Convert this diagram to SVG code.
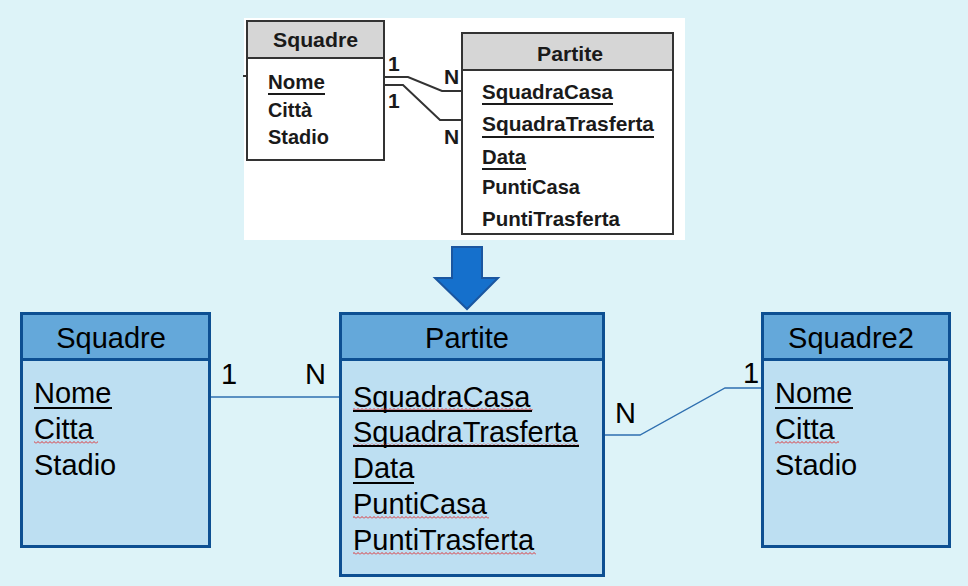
<svg xmlns="http://www.w3.org/2000/svg" width="968" height="586" viewBox="0 0 968 586">
<style>
.t{font-family:"Liberation Sans",Arial,sans-serif;font-size:29px;fill:#000}
.h{font-family:"Liberation Sans",Arial,sans-serif;font-size:29px;fill:#000;text-anchor:middle}
.b{font-family:"Liberation Sans",Arial,sans-serif;font-size:21px;font-weight:bold;fill:#1a1a1a}
.hdr{fill:#64A8DA;stroke:#0D4F92;stroke-width:3}
.body{fill:#BDDFF2;stroke:#0D4F92;stroke-width:3}
.ul{stroke:#000;stroke-width:2}
.ul2{stroke:#1a1a1a;stroke-width:2.2}
.conn{fill:none;stroke:#2E6FB0;stroke-width:1.3}
.oconn{fill:none;stroke:#333;stroke-width:2}
.obox{fill:#fff;stroke:#333;stroke-width:2}
.ohdr{fill:#D6D6D6;stroke:#333;stroke-width:2}
</style>
<defs>
<pattern id="wavy" width="4" height="3" patternUnits="userSpaceOnUse">
<path d="M0,2.5 L2,0.5 L4,2.5" fill="none" stroke="#E02020" stroke-width="0.9"/>
</pattern>
</defs>
<rect x="0" y="0" width="968" height="586" fill="#DDF3F8"/>

<!-- scanned original diagram -->
<g id="original">
<rect x="244" y="18" width="441" height="222" fill="#FFFFFF"/>
<g id="old-squadre">
<rect class="obox" x="247" y="21" width="137" height="139"/>
<rect class="ohdr" x="247" y="21" width="137" height="37"/>
<text class="b" x="273" y="47" textLength="85" lengthAdjust="spacingAndGlyphs">Squadre</text>
<text class="b" x="268" y="89" textLength="57" lengthAdjust="spacingAndGlyphs">Nome</text>
<line class="ul2" x1="268" y1="94" x2="325" y2="94"/>
<text class="b" x="268" y="117" textLength="44" lengthAdjust="spacingAndGlyphs">Città</text>
<text class="b" x="268" y="144" textLength="61" lengthAdjust="spacingAndGlyphs">Stadio</text>
</g>
<g id="old-partite">
<rect class="obox" x="462" y="33" width="211" height="201"/>
<rect class="ohdr" x="462" y="33" width="211" height="37"/>
<text class="b" x="537" y="61" textLength="66" lengthAdjust="spacingAndGlyphs">Partite</text>
<text class="b" x="482" y="99" textLength="131" lengthAdjust="spacingAndGlyphs">SquadraCasa</text>
<line class="ul2" x1="482" y1="104" x2="613" y2="104"/>
<text class="b" x="482" y="131" textLength="172" lengthAdjust="spacingAndGlyphs">SquadraTrasferta</text>
<line class="ul2" x1="482" y1="137" x2="654" y2="137"/>
<text class="b" x="482" y="164" textLength="44" lengthAdjust="spacingAndGlyphs">Data</text>
<line class="ul2" x1="482" y1="169" x2="526" y2="169"/>
<text class="b" x="482" y="194" textLength="98" lengthAdjust="spacingAndGlyphs">PuntiCasa</text>
<text class="b" x="482" y="226" textLength="138" lengthAdjust="spacingAndGlyphs">PuntiTrasferta</text>
</g>
<g id="old-connectors">
<path class="oconn" d="M384,77 L408,77 L442,91 L462,91"/>
<path class="oconn" d="M384,85 L403,85 L440,120 L462,120"/>
<line class="oconn" x1="243" y1="76" x2="247" y2="76"/>
<text class="b" x="388" y="71">1</text>
<text class="b" x="388" y="108">1</text>
<text class="b" x="444" y="84">N</text>
<text class="b" x="444" y="144">N</text>
</g>
</g>

<!-- down arrow -->
<g id="arrow">
<path d="M452,247 L482,247 L482,278 L498,278 L467,309 L435,278 L452,278 Z" fill="#1570CC" stroke="#1A56A0" stroke-width="2" stroke-linejoin="miter"/>
</g>

<!-- connectors -->
<g id="connectors">
<line class="conn" x1="211" y1="397" x2="340" y2="397"/>
<path class="conn" d="M605,435 L640,435 L725,388 L761,388"/>
<text class="t" x="221" y="384">1</text>
<text class="t" x="305" y="384">N</text>
<text class="t" x="615" y="423">N</text>
<text class="t" x="743" y="383">1</text>
</g>

<g id="squadre">
<rect class="body" x="21.5" y="313.5" width="188" height="233"/>
<rect class="hdr" x="21.5" y="313.5" width="188" height="46"/>
<text class="h" x="111" y="348">Squadre</text>
<text class="t" x="34" y="403">Nome</text>
<line class="ul" x1="34" y1="408" x2="112" y2="408"/>
<text class="t" x="34" y="439">Citta</text>
<rect x="34" y="441" width="64" height="3" fill="url(#wavy)"/>
<text class="t" x="34" y="475">Stadio</text>
</g>

<g id="partite">
<rect class="body" x="340.5" y="313.5" width="263" height="262"/>
<rect class="hdr" x="340.5" y="313.5" width="263" height="46"/>
<text class="h" x="467" y="348">Partite</text>
<text class="t" x="353" y="407">SquadraCasa</text>
<rect x="353" y="408" width="180" height="3" fill="url(#wavy)"/>
<line class="ul" x1="353" y1="411" x2="532" y2="411"/>
<text class="t" x="353" y="442">SquadraTrasferta</text>
<rect x="353" y="443" width="226" height="3" fill="url(#wavy)"/>
<line class="ul" x1="353" y1="446" x2="579" y2="446"/>
<text class="t" x="353" y="478">Data</text>
<line class="ul" x1="353" y1="483" x2="414" y2="483"/>
<text class="t" x="353" y="514">PuntiCasa</text>
<rect x="353" y="516" width="136" height="3" fill="url(#wavy)"/>
<text class="t" x="353" y="550">PuntiTrasferta</text>
<rect x="353" y="552" width="183" height="3" fill="url(#wavy)"/>
</g>

<g id="squadre2">
<rect class="body" x="762.5" y="313.5" width="187" height="233"/>
<rect class="hdr" x="762.5" y="313.5" width="187" height="46"/>
<text class="h" x="851" y="348">Squadre2</text>
<text class="t" x="775" y="403">Nome</text>
<line class="ul" x1="775" y1="408" x2="853" y2="408"/>
<text class="t" x="775" y="439">Citta</text>
<rect x="775" y="441" width="64" height="3" fill="url(#wavy)"/>
<text class="t" x="775" y="475">Stadio</text>
</g>
</svg>
